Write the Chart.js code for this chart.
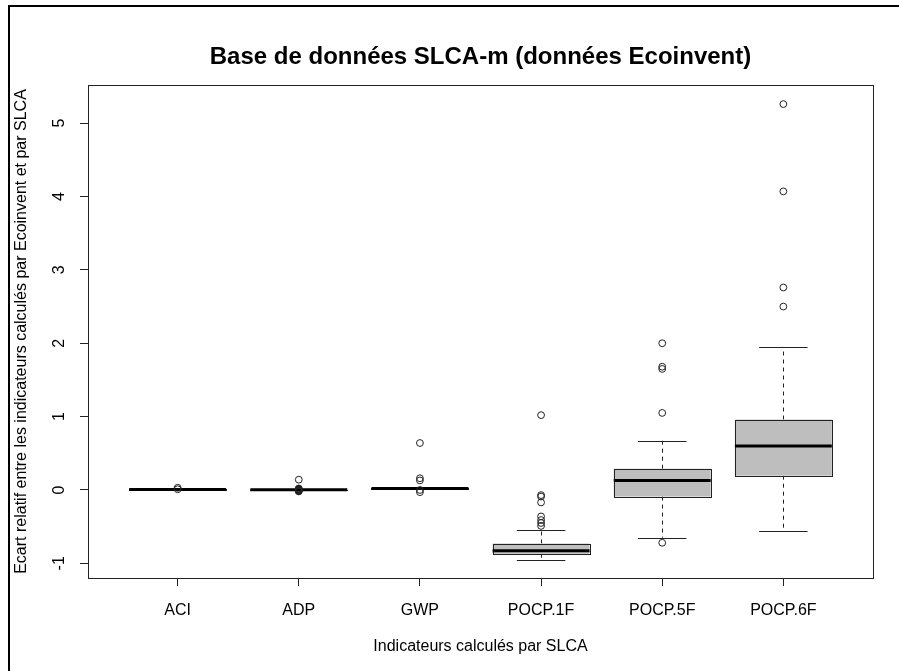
<!DOCTYPE html>
<html><head><meta charset="utf-8">
<script src="https://cdn.jsdelivr.net/npm/chart.js@4/dist/chart.umd.min.js"></script>
<style>html,body{margin:0;padding:0;background:#fff}canvas{display:block}</style>
</head><body>
<canvas id="c" width="899" height="671"></canvas>
<script>
// ---- data ----
const categories = ['ACI', 'ADP', 'GWP', 'POCP.1F', 'POCP.5F', 'POCP.6F'];
const lowerWhisker = [0.000, 0.000, 0.010, -0.95, -0.65, -0.555];
const q1 = [0.000, 0.000, 0.015, -0.87, -0.09, 0.195];
const medians = [0.005, 0.003, 0.020, -0.83, 0.13, 0.60];
const q3 = [0.010, 0.006, 0.025, -0.73, 0.29, 0.96];
const upperWhisker = [0.010, 0.006, 0.030, -0.54, 0.67, 1.95];
const outliersACI = [0.03, 0.01];
const outliersADP = [-0.02, -0.015, -0.01, -0.005, 0.0, 0.005, 0.01, 0.015, 0.02, 0.14];
const outliersGWP = [0.64, 0.16, 0.13, 0.0, -0.03];
const outliersPOCP1F = [1.02, -0.07, -0.09, -0.17, -0.36, -0.41, -0.45, -0.49];
const outliersPOCP5F = [2.0, 1.68, 1.65, 1.05, -0.72];
const outliersPOCP6F = [5.26, 4.07, 2.76, 2.50];
const yTicks = [-1, 0, 1, 2, 3, 4, 5];
const chartTitle = 'Base de données SLCA-m (données Ecoinvent)';
const xTitle = 'Indicateurs calculés par SLCA';
const yTitle = 'Ecart relatif entre les indicateurs calculés par Ecoinvent et par SLCA';

const outlierGroups = [outliersACI, outliersADP, outliersGWP, outliersPOCP1F, outliersPOCP5F, outliersPOCP6F];
const outlierPoints = [];
outlierGroups.forEach((g, i) => g.forEach(v => outlierPoints.push({x: i + 1, y: v})));

const FONT = "'Liberation Sans', Arial, Helvetica, sans-serif";
Chart.defaults.font.family = FONT;
Chart.defaults.color = '#000';

const boxPlugin = {
  id: 'boxes',
  beforeDraw(chart) {
    const ctx = chart.ctx;
    ctx.save();
    ctx.fillStyle = '#fff';
    ctx.fillRect(0, 0, chart.width, chart.height);
    ctx.fillStyle = '#000';
    ctx.fillRect(8, 5, chart.width - 8, 2);
    ctx.fillRect(8, 5, 2, chart.height - 5);
    ctx.restore();
  },
  beforeDatasetsDraw(chart) {
    const ctx = chart.ctx, xs = chart.scales.x, ys = chart.scales.y;
    ctx.save();
    categories.forEach((c, i) => {
      const cx = xs.getPixelForValue(i + 1);
      const hw = xs.getPixelForValue(i + 1.4) - cx;
      const cap = hw / 2;
      const yLo = ys.getPixelForValue(lowerWhisker[i]);
      const yQ1 = ys.getPixelForValue(q1[i]);
      const yMed = ys.getPixelForValue(medians[i]);
      const yQ3 = ys.getPixelForValue(q3[i]);
      const yHi = ys.getPixelForValue(upperWhisker[i]);
      const xc = Math.round(cx) + 0.5;
      ctx.strokeStyle = '#222';
      ctx.lineWidth = 1;
      ctx.setLineDash([4, 4]);
      ctx.beginPath();
      ctx.moveTo(xc, yQ3); ctx.lineTo(xc, yHi);
      ctx.moveTo(xc, yQ1); ctx.lineTo(xc, yLo);
      ctx.stroke();
      ctx.setLineDash([]);
      ctx.beginPath();
      ctx.moveTo(cx - cap, Math.round(yHi) + 0.5); ctx.lineTo(cx + cap, Math.round(yHi) + 0.5);
      ctx.moveTo(cx - cap, Math.round(yLo) + 0.5); ctx.lineTo(cx + cap, Math.round(yLo) + 0.5);
      ctx.stroke();
      ctx.fillStyle = '#bebebe';
      ctx.fillRect(cx - hw, yQ3, 2 * hw, yQ1 - yQ3);
      ctx.strokeRect(Math.round(cx - hw) + 0.5, Math.round(yQ3) + 0.5, Math.round(2 * hw), Math.round(yQ1 - yQ3));
      ctx.strokeStyle = '#000';
      ctx.lineWidth = 3;
      ctx.beginPath();
      ctx.moveTo(cx - hw, yMed); ctx.lineTo(cx + hw, yMed);
      ctx.stroke();
    });
    ctx.restore();
  },
  afterDraw(chart) {
    const ctx = chart.ctx, a = chart.chartArea, ys = chart.scales.y;
    ctx.save();
    ctx.strokeStyle = '#222';
    ctx.lineWidth = 1;
    ctx.strokeRect(Math.round(a.left) + 0.5, Math.round(a.top) + 0.5, Math.round(a.right - a.left), Math.round(a.bottom - a.top));
    ctx.fillStyle = '#000';
    ctx.font = '16px ' + FONT;
    ctx.textAlign = 'center';
    ctx.textBaseline = 'middle';
    yTicks.forEach(v => {
      const y = ys.getPixelForValue(v);
      ctx.save();
      ctx.translate(60, y);
      ctx.rotate(-Math.PI / 2);
      ctx.fillText(String(v), 0, 0);
      ctx.restore();
    });
    ctx.restore();
  }
};

new Chart(document.getElementById('c'), {
  type: 'scatter',
  data: {
    datasets: [{
      label: 'outliers',
      data: outlierPoints,
      pointRadius: 3.4,
      pointHoverRadius: 3.4,
      borderWidth: 1,
      borderColor: '#222',
      backgroundColor: 'rgba(0,0,0,0)'
    }]
  },
  options: {
    responsive: false,
    animation: false,
    events: [],
    layout: { padding: { left: 0, top: 0, right: 26, bottom: 0 } },
    plugins: {
      legend: { display: false },
      tooltip: { enabled: false },
      title: {
        display: true, text: chartTitle, fullSize: false,
        font: { size: 24, weight: 'bold', family: FONT }, color: '#000',
        padding: { top: 42.6, bottom: 13.6 }
      }
    },
    scales: {
      x: {
        type: 'linear', min: 0.26, max: 6.74,
        afterBuildTicks: s => { s.ticks = categories.map((c, i) => ({ value: i + 1 })); },
        ticks: {
          callback: v => categories[Math.round(v) - 1],
          font: { size: 16 }, color: '#000', padding: 15,
          maxRotation: 0, minRotation: 0, autoSkip: false
        },
        grid: { display: true, drawOnChartArea: false, drawTicks: true, tickLength: 8, color: '#222', lineWidth: 1 },
        border: { display: false },
        title: { display: true, text: xTitle, font: { size: 16 }, color: '#000', padding: { top: 0, bottom: 14.4 } },
        afterFit: s => { s.height = 93; }
      },
      y: {
        type: 'linear', min: -1.2, max: 5.52,
        afterBuildTicks: s => { s.ticks = yTicks.map(v => ({ value: v })); },
        ticks: { display: false },
        grid: { display: true, drawOnChartArea: false, drawTicks: true, tickLength: 8, color: '#222', lineWidth: 1 },
        border: { display: false },
        title: { display: true, text: yTitle, font: { size: 16 }, color: '#000', padding: { top: 12.4, bottom: 0 } },
        afterFit: s => { s.width = 88; }
      }
    }
  },
  plugins: [boxPlugin]
});
</script>
</body></html>
